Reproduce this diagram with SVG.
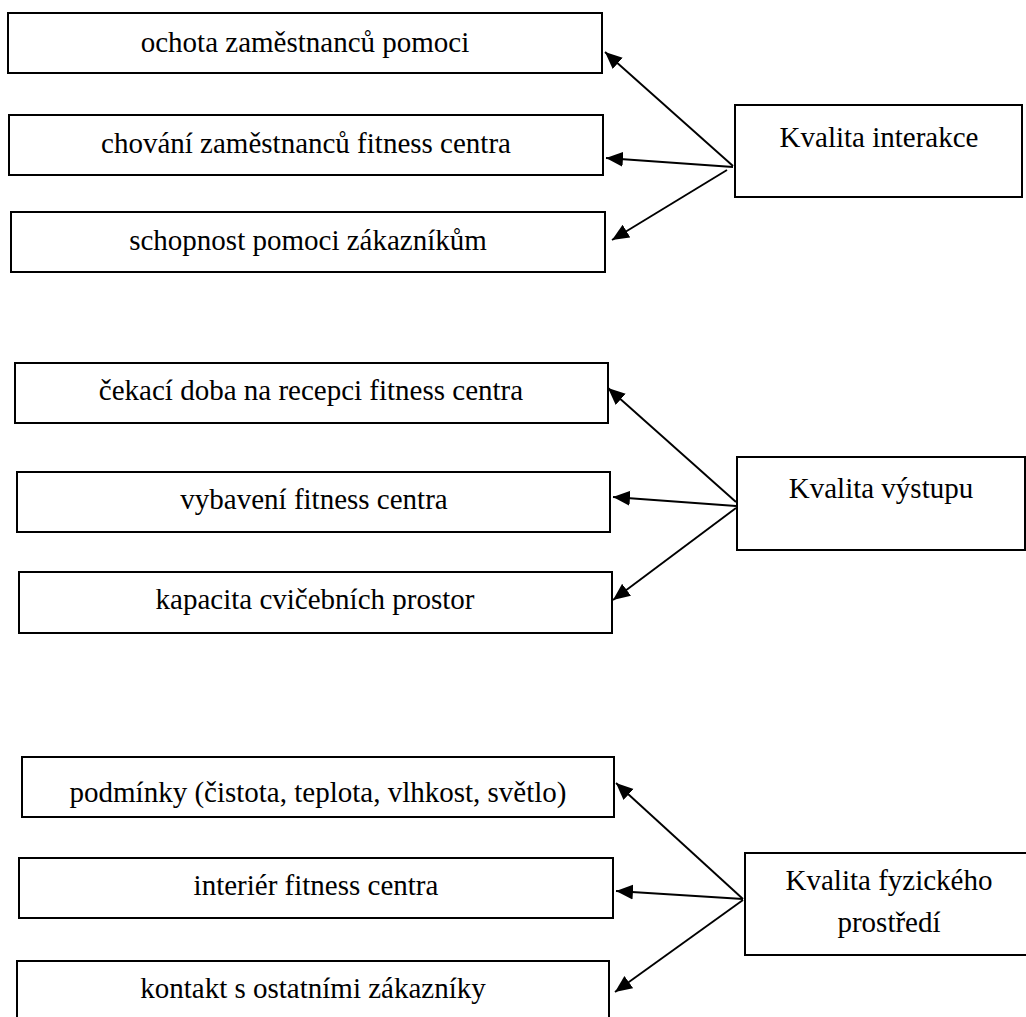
<svg xmlns="http://www.w3.org/2000/svg" width="1026" height="1017" viewBox="0 0 1026 1017">
  <style>
    .box { fill: #ffffff; stroke: #000000; stroke-width: 2; }
    .lbl { font-family: 'Liberation Serif', 'Times New Roman', Times, serif; font-size: 29px; fill: #000000; text-anchor: middle; }
    .arrow { stroke: #000000; stroke-width: 1.9; fill: none; marker-end: url(#head); }
  </style>
  <defs>
    <marker id="head" markerUnits="userSpaceOnUse" markerWidth="18" markerHeight="16" viewBox="0 0 18 16" refX="17" refY="8" orient="auto">
      <path d="M0,0.5 L17,8 L0,15.5 Z" fill="#000000"/>
    </marker>
  </defs>
  <rect width="1026" height="1017" fill="#ffffff"/>

  <!-- Kvalita interakce: items -->
  <g id="n-ochota">
    <rect class="box" x="8" y="13" width="594" height="60"/>
    <text class="lbl" x="305" y="52">ochota zaměstnanců pomoci</text>
  </g>
  <g id="n-chovani">
    <rect class="box" x="9" y="115" width="594" height="60"/>
    <text class="lbl" x="306" y="153">chování zaměstnanců fitness centra</text>
  </g>
  <g id="n-schopnost">
    <rect class="box" x="11" y="212" width="594" height="60"/>
    <text class="lbl" x="308" y="250">schopnost pomoci zákazníkům</text>
  </g>
  <g id="n-interakce">
    <rect class="box" x="735" y="105" width="287" height="92"/>
    <text class="lbl" x="879" y="147">Kvalita interakce</text>
  </g>

  <!-- Kvalita výstupu: items -->
  <g id="n-cekaci">
    <rect class="box" x="15" y="363" width="593" height="60"/>
    <text class="lbl" x="311" y="400">čekací doba na recepci fitness centra</text>
  </g>
  <g id="n-vybaveni">
    <rect class="box" x="17" y="472" width="593" height="60"/>
    <text class="lbl" x="314" y="509">vybavení fitness centra</text>
  </g>
  <g id="n-kapacita">
    <rect class="box" x="19" y="572" width="593" height="61"/>
    <text class="lbl" x="315" y="609">kapacita cvičebních prostor</text>
  </g>
  <g id="n-vystup">
    <rect class="box" x="737" y="457" width="288" height="93"/>
    <text class="lbl" x="881" y="498">Kvalita výstupu</text>
  </g>

  <!-- Kvalita fyzického prostředí: items -->
  <g id="n-podminky">
    <rect class="box" x="22" y="757" width="592" height="60"/>
    <text class="lbl" x="318" y="802">podmínky (čistota, teplota, vlhkost, světlo)</text>
  </g>
  <g id="n-interier">
    <rect class="box" x="19" y="858" width="594" height="60"/>
    <text class="lbl" x="316" y="895">interiér fitness centra</text>
  </g>
  <g id="n-kontakt">
    <rect class="box" x="17" y="961" width="592" height="70"/>
    <text class="lbl" x="313" y="998">kontakt s ostatními zákazníky</text>
  </g>
  <g id="n-prostredi">
    <rect class="box" x="745" y="853" width="290" height="102"/>
    <text class="lbl" x="889" y="890">Kvalita fyzického</text>
    <text class="lbl" x="889" y="932">prostředí</text>
  </g>

  <!-- connectors -->
  <g id="connectors">
    <line class="arrow" x1="733" y1="166" x2="605" y2="52"/>
    <line class="arrow" x1="733" y1="167" x2="606" y2="158"/>
    <line class="arrow" x1="727" y1="170" x2="612" y2="240"/>

    <line class="arrow" x1="736" y1="502" x2="608" y2="388"/>
    <line class="arrow" x1="736" y1="506" x2="613" y2="497"/>
    <line class="arrow" x1="736" y1="508" x2="613" y2="600"/>

    <line class="arrow" x1="743" y1="899" x2="616" y2="783"/>
    <line class="arrow" x1="743" y1="899" x2="616" y2="891"/>
    <line class="arrow" x1="743" y1="900" x2="615" y2="992"/>
  </g>
</svg>
